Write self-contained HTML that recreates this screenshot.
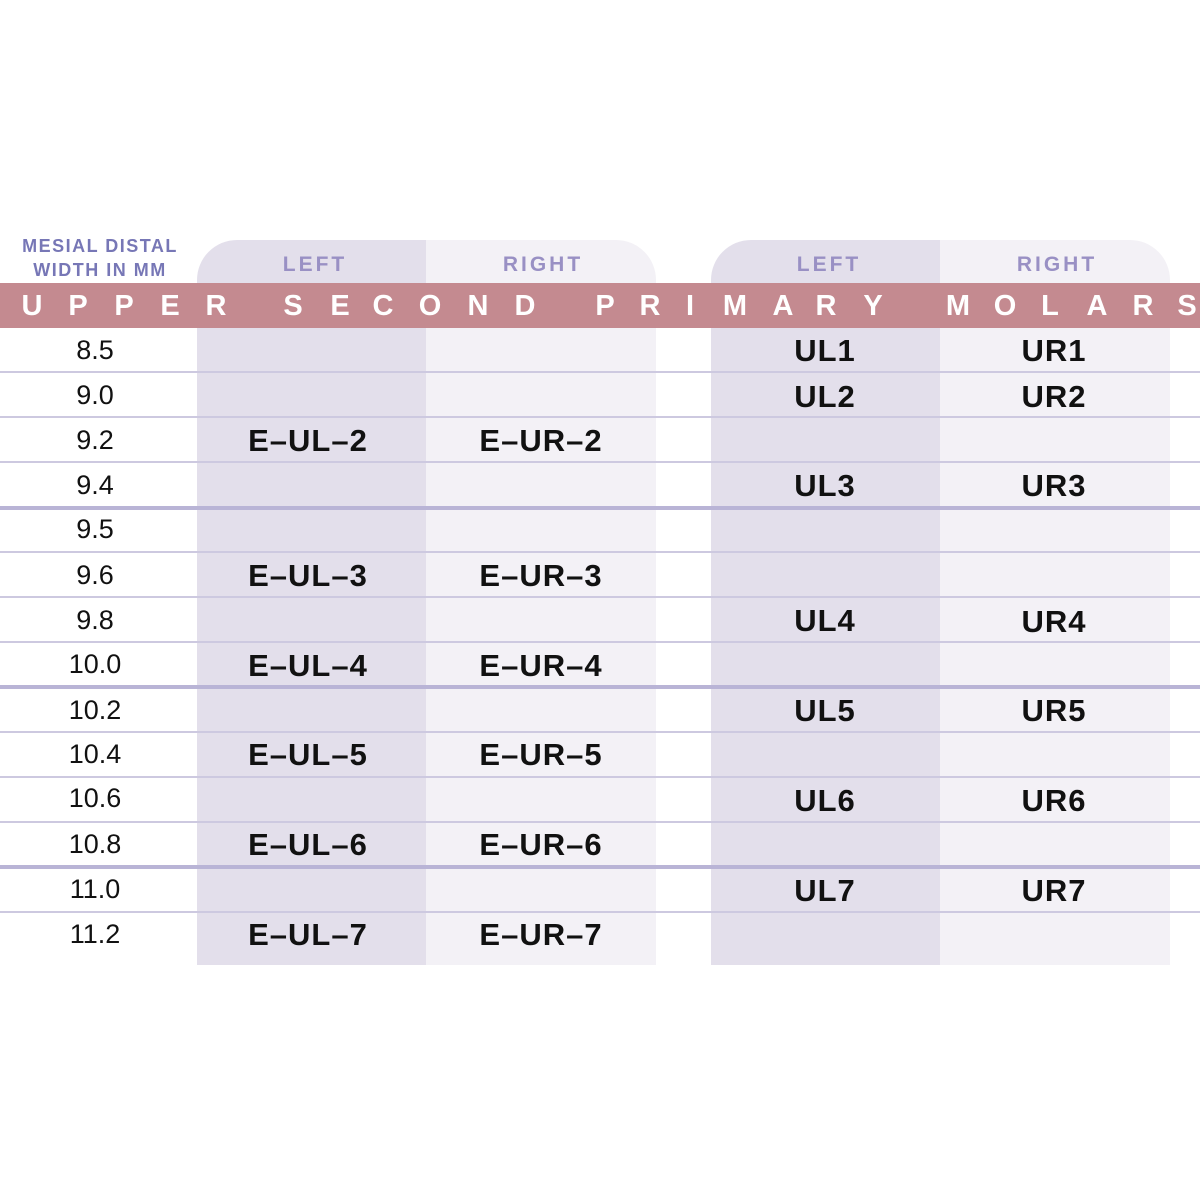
<!DOCTYPE html>
<html><head><style>
body{margin:0;width:1200px;height:1200px;background:#fff;position:relative;overflow:hidden;font-family:"Liberation Sans",Arial,sans-serif}
.a{position:absolute}
.col{position:absolute;top:240px;height:725px;}
.c1{background:#e3dfeb}.c2{background:#f3f1f6}
.hl{position:absolute;left:0;width:1200px;height:2px;background:#cdc9e0}
.hl.t{height:4px;background:#b9b4d6}
.hd{position:absolute;top:253px;width:230px;text-align:center;font-weight:900;font-size:21px;letter-spacing:3px;color:#9990c4}
.band{position:absolute;left:0;top:283px;width:1200px;height:45px;background:#c48a90}
.L{position:absolute;top:289px;width:40px;text-align:center;color:#fff;font-weight:900;font-size:29px;line-height:34px}
.n{position:absolute;left:45px;width:100px;text-align:center;font-size:27px;color:#111;line-height:30px}
.b{position:absolute;width:230px;text-align:center;font-size:31px;font-weight:bold;color:#111;line-height:32px;letter-spacing:1px}
</style></head><body>
<div class="col c1" style="left:197px;width:229px;border-top-left-radius:40px"></div>
<div class="col c2" style="left:426px;width:230px;border-top-right-radius:40px"></div>
<div class="col c1" style="left:711px;width:229px;border-top-left-radius:40px"></div>
<div class="col c2" style="left:940px;width:230px;border-top-right-radius:40px"></div>
<div class="a" style="left:0;top:234px;width:200px;text-align:center;font-weight:900;font-size:18px;line-height:24px;color:#7777b6;letter-spacing:1.5px">MESIAL DISTAL<br>WIDTH IN MM</div>
<div class="hd" style="left:200px">LEFT</div>
<div class="hd" style="left:428px">RIGHT</div>
<div class="hd" style="left:714px">LEFT</div>
<div class="hd" style="left:942px">RIGHT</div>
<div class="band"></div>
<div class="L" style="left:12px">U</div><div class="L" style="left:58px">P</div><div class="L" style="left:104px">P</div><div class="L" style="left:150px">E</div><div class="L" style="left:196px">R</div>
<div class="L" style="left:273px">S</div><div class="L" style="left:320px">E</div><div class="L" style="left:363px">C</div><div class="L" style="left:410px">O</div><div class="L" style="left:458px">N</div><div class="L" style="left:505px">D</div>
<div class="L" style="left:585px">P</div><div class="L" style="left:630px">R</div><div class="L" style="left:670px">I</div><div class="L" style="left:715px">M</div><div class="L" style="left:763px">A</div><div class="L" style="left:806px">R</div><div class="L" style="left:853px">Y</div>
<div class="L" style="left:938px">M</div><div class="L" style="left:985px">O</div><div class="L" style="left:1030px">L</div><div class="L" style="left:1077px">A</div><div class="L" style="left:1123px">R</div><div class="L" style="left:1167px">S</div>
<div class="hl" style="top:371px"></div><div class="hl" style="top:416px"></div><div class="hl" style="top:461px"></div><div class="hl t" style="top:506px"></div>
<div class="hl" style="top:551px"></div><div class="hl" style="top:596px"></div><div class="hl" style="top:641px"></div><div class="hl t" style="top:685px"></div>
<div class="hl" style="top:731px"></div><div class="hl" style="top:776px"></div><div class="hl" style="top:821px"></div><div class="hl t" style="top:865px"></div>
<div class="hl" style="top:911px"></div>
<div class="n" style="top:335px">8.5</div><div class="n" style="top:380px">9.0</div><div class="n" style="top:425px">9.2</div><div class="n" style="top:470px">9.4</div>
<div class="n" style="top:514px">9.5</div><div class="n" style="top:560px">9.6</div><div class="n" style="top:605px">9.8</div><div class="n" style="top:649px">10.0</div>
<div class="n" style="top:695px">10.2</div><div class="n" style="top:739px">10.4</div><div class="n" style="top:783px">10.6</div><div class="n" style="top:829px">10.8</div>
<div class="n" style="top:874px">11.0</div><div class="n" style="top:919px">11.2</div>
<div class="b" style="left:193px;top:425px">E–UL–2</div><div class="b" style="left:426px;top:425px">E–UR–2</div>
<div class="b" style="left:193px;top:560px">E–UL–3</div><div class="b" style="left:426px;top:560px">E–UR–3</div>
<div class="b" style="left:193px;top:650px">E–UL–4</div><div class="b" style="left:426px;top:650px">E–UR–4</div>
<div class="b" style="left:193px;top:739px">E–UL–5</div><div class="b" style="left:426px;top:739px">E–UR–5</div>
<div class="b" style="left:193px;top:829px">E–UL–6</div><div class="b" style="left:426px;top:829px">E–UR–6</div>
<div class="b" style="left:193px;top:919px">E–UL–7</div><div class="b" style="left:426px;top:919px">E–UR–7</div>
<div class="b" style="left:710px;top:335px">UL1</div><div class="b" style="left:939px;top:335px">UR1</div>
<div class="b" style="left:710px;top:381px">UL2</div><div class="b" style="left:939px;top:381px">UR2</div>
<div class="b" style="left:710px;top:470px">UL3</div><div class="b" style="left:939px;top:470px">UR3</div>
<div class="b" style="left:710px;top:605px">UL4</div><div class="b" style="left:939px;top:606px">UR4</div>
<div class="b" style="left:710px;top:695px">UL5</div><div class="b" style="left:939px;top:695px">UR5</div>
<div class="b" style="left:710px;top:785px">UL6</div><div class="b" style="left:939px;top:785px">UR6</div>
<div class="b" style="left:710px;top:875px">UL7</div><div class="b" style="left:939px;top:875px">UR7</div>
</body></html>
